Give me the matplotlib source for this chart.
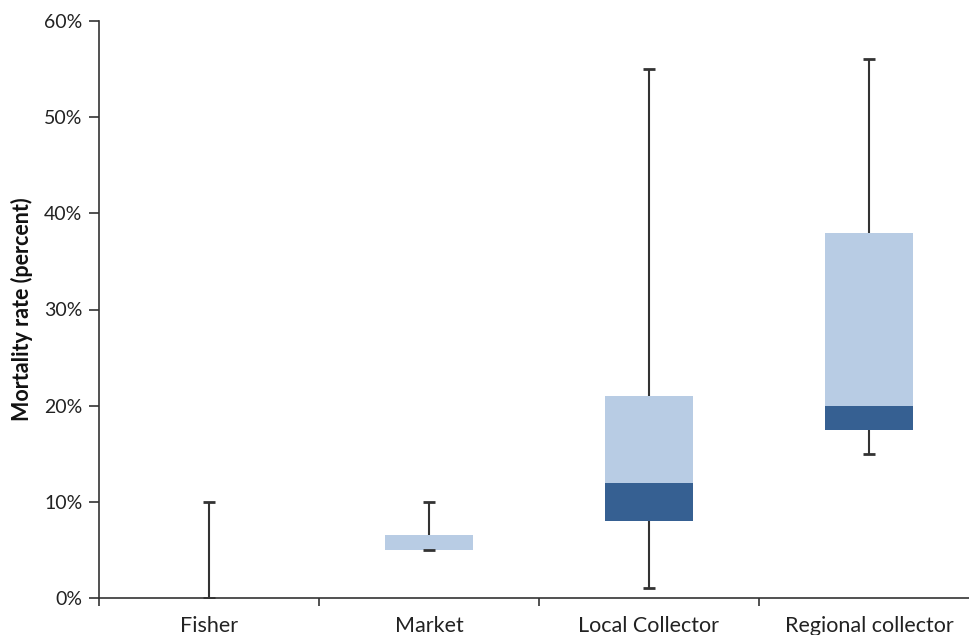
import matplotlib

matplotlib.use("Agg")
import matplotlib.pyplot as plt
from matplotlib.ticker import FixedLocator, FuncFormatter, NullFormatter


# Mortality rate summaries (percent) per stage of the supply chain
categories = ["Fisher", "Market", "Local Collector", "Regional collector"]
minimum = [0.0, 5.0, 1.0, 15.0]
quartile1 = [0.0, 5.0, 8.0, 17.5]
median = [0.0, 5.0, 12.0, 20.0]
quartile3 = [0.0, 6.5, 21.0, 38.0]
maximum = [10.0, 10.0, 55.0, 56.0]

LIGHT = "#b8cce4"
DARK = "#366092"
LINE = "#333333"

plt.rcParams["font.family"] = ["Lato", "DejaVu Sans"]

fig = plt.figure(figsize=(9.7, 6.35), dpi=100)
# right edge runs past the figure, the axis line is cut at the border
ax = fig.add_axes([99 / 970, 37 / 635, 880 / 970, 577 / 635])

pos = list(range(1, len(categories) + 1))
lower_seg = [m - q1 for m, q1 in zip(median, quartile1)]
upper_seg = [q3 - m for q3, m in zip(quartile3, median)]

ax.bar(pos, lower_seg, width=0.4, bottom=quartile1, color=DARK, zorder=2)
ax.bar(pos, upper_seg, width=0.4, bottom=median, color=LIGHT, zorder=2)

# whiskers: box top up to the max, box bottom down to the min, caps only at the ends
ax.vlines(pos, quartile3, maximum, color=LINE, linewidth=1.5, zorder=1)
ax.vlines(pos, minimum, quartile1, color=LINE, linewidth=1.5, zorder=1)
ax.plot(pos, maximum, linestyle="none", marker="_", markersize=9,
        markeredgewidth=2, color=LINE, zorder=3)
ax.plot(pos, minimum, linestyle="none", marker="_", markersize=9,
        markeredgewidth=2, color=LINE, zorder=3)

ax.set_xlim(0.5, len(categories) + 0.5)
ax.set_ylim(0, 60)
ax.set_yticks(range(0, 61, 10))
ax.yaxis.set_major_formatter(FuncFormatter(lambda v, _: f"{v:.0f}%"))

ax.xaxis.set_major_locator(FixedLocator([p + 0.5 for p in range(len(categories) + 1)]))
ax.xaxis.set_major_formatter(NullFormatter())
ax.xaxis.set_minor_locator(FixedLocator(pos))
ax.set_xticklabels(categories, minor=True)
ax.tick_params(axis="x", which="minor", length=0, pad=13, labelsize=15.5, colors="#222222")
ax.tick_params(axis="x", which="major", length=6, width=1.2, color=LINE)
ax.tick_params(axis="y", length=7, width=1.2, color=LINE, labelsize=14,
               labelcolor="#222222", pad=5)

for side in ("top", "right"):
    ax.spines[side].set_visible(False)
for side in ("left", "bottom"):
    ax.spines[side].set_color(LINE)
    ax.spines[side].set_linewidth(1.2)
    ax.spines[side].set_zorder(4)

ax.set_ylabel("Mortality rate (percent)", fontsize=15.5, fontweight="bold",
              color="#111111", labelpad=8)

fig.savefig("out.png", dpi=100)
